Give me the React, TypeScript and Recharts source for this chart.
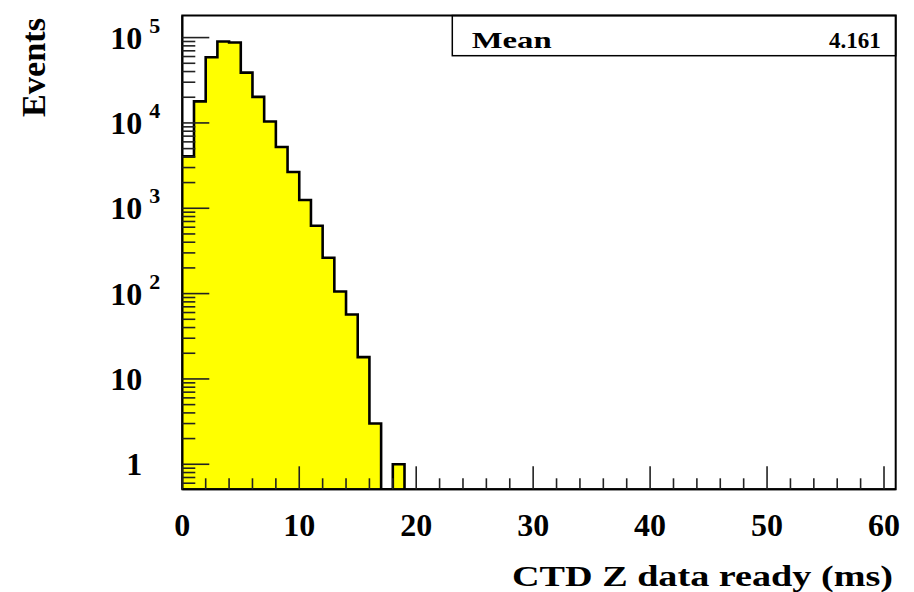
import React from 'react';
import { ComposedChart, Area, XAxis, YAxis, ReferenceArea, Customized } from 'recharts';

// Histogram of CTD Z "data ready" time, 1 ms bins starting at 0 ms
const BIN_EDGES = [0, 1, 2, 3, 4, 5, 6, 7, 8, 9, 10, 11, 12, 13, 14, 15, 16, 17, 18];
const COUNTS = [4060, 17900, 58900, 89900, 87500, 38900, 20200, 10400, 5230, 2660, 1250, 624, 263, 106, 57, 18, 3, 0, 1];
const LAST_EDGE = 19;

const X_RANGE: [number, number] = [0, 61];
const X_TICKS = [0, 2, 4, 6, 8, 10, 12, 14, 16, 18, 20, 22, 24, 26, 28, 30, 32, 34, 36, 38, 40, 42, 44, 46, 48, 50, 52, 54, 56, 58, 60];
const X_LABELED = [0, 10, 20, 30, 40, 50, 60];

const Y_RANGE: [number, number] = [0.509, 181500];
const Y_TICKS = [
  0.6, 0.7, 0.8, 0.9,
  1, 2, 3, 4, 5, 6, 7, 8, 9,
  10, 20, 30, 40, 50, 60, 70, 80, 90,
  100, 200, 300, 400, 500, 600, 700, 800, 900,
  1000, 2000, 3000, 4000, 5000, 6000, 7000, 8000, 9000,
  10000, 20000, 30000, 40000, 50000, 60000, 70000, 80000, 90000,
  100000,
];
const Y_DECADES = [1, 10, 100, 1000, 10000, 100000];
const Y_DECADE_BASES = ['1', '10', '10', '10', '10', '10'];
const Y_DECADE_EXPONENTS = ['', '', '2', '3', '4', '5'];

const X_TITLE = 'CTD Z data ready (ms)';
const Y_TITLE = 'Events';
const STAT_NAME = 'Mean';
const STAT_VALUE = '4.161';

const FONT = '"Liberation Serif", "Times New Roman", serif';

// Empty bins sit on the log axis floor so the outline runs along the bottom.
const histData = [
  ...BIN_EDGES.map((edge, i) => ({ x: edge, y: COUNTS[i] > 0 ? COUNTS[i] : Y_RANGE[0] })),
  { x: LAST_EDGE, y: Y_RANGE[0] },
];

function XTick(props: any) {
  const { x, y, payload } = props;
  const v = payload.value as number;
  const major = X_LABELED.includes(v);
  return (
    <g>
      <line x1={x} x2={x} y1={y} y2={y - (major ? 23 : 11)} stroke="#222" strokeWidth={1.6} />
      {major && (
        <text x={x} y={y + 47} textAnchor="middle" fontFamily={FONT} fontWeight="bold" fontSize={32} fill="#000">
          {String(v)}
        </text>
      )}
    </g>
  );
}

function YTick(props: any) {
  const { x, y, payload } = props;
  const v = payload.value as number;
  const idx = Y_DECADES.indexOf(v);
  const major = idx >= 0;
  return (
    <g>
      <line x1={x} x2={x + (major ? 27 : 13)} y1={y} y2={y} stroke="#222" strokeWidth={1.6} />
      {major && (
        <text x={x - 40} y={y + 11} textAnchor="end" fontFamily={FONT} fontWeight="bold" fontSize={32} fill="#000">
          {Y_DECADE_BASES[idx]}
        </text>
      )}
      {major && Y_DECADE_EXPONENTS[idx] !== '' && (
        <text x={x - 33} y={y - 5} textAnchor="start" fontFamily={FONT} fontWeight="bold" fontSize={22} fill="#000">
          {Y_DECADE_EXPONENTS[idx]}
        </text>
      )}
    </g>
  );
}

function Decorations() {
  return (
    <g>
      <rect x={452.3} y={15.5} width={443.4} height={40.2} fill="#fff" stroke="#000" strokeWidth={1.5} />
      <text x={471.7} y={47.5} fontFamily={FONT} fontWeight="bold" fontSize={23} fill="#000" textLength={80} lengthAdjust="spacingAndGlyphs">
        {STAT_NAME}
      </text>
      <text x={880.7} y={47.5} textAnchor="end" fontFamily={FONT} fontWeight="bold" fontSize={23} fill="#000">
        {STAT_VALUE}
      </text>
      <text
        x={0}
        y={0}
        transform="translate(44.5,67.5) rotate(-90)"
        textAnchor="middle"
        fontFamily={FONT}
        fontWeight="bold"
        fontSize={34}
        fill="#000"
        textLength={99}
        lengthAdjust="spacingAndGlyphs"
      >
        {Y_TITLE}
      </text>
      <text x={893} y={586} textAnchor="end" fontFamily={FONT} fontWeight="bold" fontSize={29} fill="#000" textLength={381} lengthAdjust="spacingAndGlyphs">
        {X_TITLE}
      </text>
    </g>
  );
}

export default function App() {
  return (
    <div style={{ position: 'absolute', left: 0, top: 0, width: 914, height: 592, background: '#fff' }}>
      <ComposedChart
        width={914}
        height={592}
        data={histData}
        margin={{ top: 15.5, right: 18.3, bottom: 0, left: 0 }}
      >
        <XAxis
          dataKey="x"
          type="number"
          domain={X_RANGE}
          ticks={X_TICKS}
          interval={0}
          allowDataOverflow
          height={102.7}
          tickSize={0}
          tickMargin={0}
          tickLine={false}
          tick={<XTick />}
          axisLine={{ stroke: '#000', strokeWidth: 2 }}
        />
        <YAxis
          type="number"
          scale="log"
          domain={Y_RANGE}
          ticks={Y_TICKS}
          interval={0}
          allowDataOverflow
          width={182.3}
          tickSize={0}
          tickMargin={0}
          tickLine={false}
          tick={<YTick />}
          axisLine={{ stroke: '#000', strokeWidth: 2 }}
        />
        <Area
          type="stepAfter"
          dataKey="y"
          stroke="#000"
          strokeWidth={2.6}
          fill="#ffff00"
          fillOpacity={1}
          dot={false}
          activeDot={false}
          isAnimationActive={false}
        />
        <ReferenceArea
          x1={X_RANGE[0]}
          x2={X_RANGE[1]}
          y1={Y_RANGE[0]}
          y2={Y_RANGE[1]}
          fill="none"
          stroke="#000"
          strokeWidth={2}
          ifOverflow="visible"
        />
        <Customized component={Decorations} />
      </ComposedChart>
    </div>
  );
}
